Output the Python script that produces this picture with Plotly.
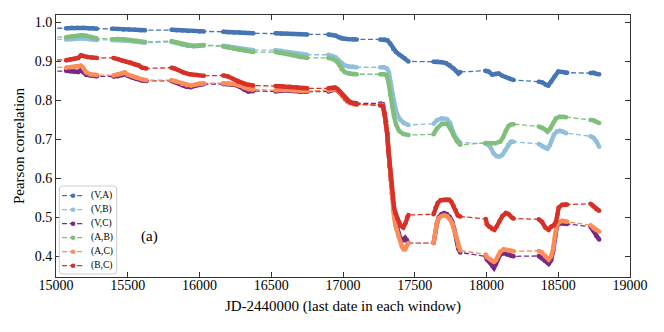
import plotly.graph_objects as go

# ---------------- data (JD-2440000, Pearson r) ----------------
va_jd = [14850,
         15070, 15110, 15150, 15190, 15230, 15260, 15285,
         15390, 15430, 15470, 15510, 15550, 15590, 15620,
         15805, 15840, 15880, 15920, 15960, 16000, 16030,
         16165, 16200, 16240, 16280, 16320, 16375,
         16530, 16570, 16610, 16650, 16700, 16750,
         16898, 16925, 16950, 16970, 16990, 17010, 17040, 17070, 17096,
         17259, 17290, 17310, 17330, 17350, 17370, 17390, 17410, 17430, 17456,
         17631, 17660, 17690, 17720, 17745, 17770, 17790, 17805, 17817,
         17991, 18015, 18040, 18065, 18085, 18110, 18135, 18160, 18189,
         18364, 18390, 18415, 18430, 18450, 18475, 18500, 18525, 18550, 18562,
         18725, 18745, 18765, 18785]
va_r = [0.985,
        0.985, 0.986, 0.986, 0.986, 0.985, 0.985, 0.984,
        0.984, 0.983, 0.982, 0.982, 0.981, 0.980, 0.980,
        0.981, 0.980, 0.979, 0.978, 0.978, 0.977, 0.977,
        0.976, 0.975, 0.974, 0.974, 0.973, 0.972,
        0.972, 0.971, 0.971, 0.970, 0.970, 0.969,
        0.969, 0.968, 0.966, 0.962, 0.959, 0.958, 0.957, 0.957, 0.956,
        0.956, 0.956, 0.954, 0.945, 0.932, 0.924, 0.918, 0.913, 0.908, 0.900,
        0.899, 0.899, 0.898, 0.895, 0.890, 0.882, 0.875, 0.869, 0.873,
        0.876, 0.874, 0.866, 0.868, 0.869, 0.863, 0.860, 0.856, 0.852,
        0.848, 0.846, 0.840, 0.838, 0.848, 0.862, 0.874, 0.873, 0.871, 0.871,
        0.870, 0.871, 0.868, 0.867]

vb_jd = [14850,
         15070, 15110, 15150, 15190, 15230, 15260, 15285,
         15390, 15430, 15470, 15510, 15550, 15590, 15620,
         15805, 15840, 15880, 15920, 15960, 16000, 16030,
         16165, 16200, 16240, 16280, 16320, 16375,
         16530, 16570, 16610, 16650, 16700, 16750,
         16898, 16925, 16950, 16970, 16990, 17010, 17040, 17070, 17096,
         17259, 17285, 17305, 17320, 17335, 17350, 17365, 17380, 17400, 17425, 17456,
         17631, 17655, 17689, 17724, 17747, 17770, 17794, 17817,
         17992, 18010, 18027, 18050, 18070, 18090, 18110, 18130, 18150, 18170, 18189,
         18364, 18390, 18410, 18425, 18440, 18455, 18470, 18490, 18510, 18530, 18555,
         18725, 18745, 18765, 18785]
vb_r = [0.955,
        0.956, 0.957, 0.958, 0.959, 0.957, 0.956, 0.955,
        0.955, 0.955, 0.954, 0.953, 0.951, 0.949, 0.948,
        0.950, 0.947, 0.943, 0.940, 0.940, 0.941, 0.942,
        0.940, 0.938, 0.936, 0.933, 0.931, 0.929,
        0.929, 0.927, 0.924, 0.921, 0.918, 0.917,
        0.917, 0.914, 0.910, 0.903, 0.895, 0.890, 0.887, 0.886, 0.885,
        0.885, 0.885, 0.882, 0.872, 0.840, 0.805, 0.780, 0.762, 0.750, 0.742, 0.737,
        0.740, 0.749, 0.754, 0.752, 0.742, 0.716, 0.700, 0.692,
        0.689, 0.686, 0.680, 0.664, 0.657, 0.656, 0.660, 0.672, 0.686, 0.694, 0.694,
        0.688, 0.682, 0.678, 0.676, 0.684, 0.698, 0.712, 0.720, 0.722, 0.720, 0.716,
        0.708, 0.704, 0.695, 0.681]

vc_jd = [14850,
         15070, 15100, 15130, 15155, 15175, 15190, 15210, 15240, 15285,
         15400, 15430, 15460, 15480, 15500, 15530, 15560, 15600, 15630,
         15805, 15840, 15880, 15910, 15940, 15975, 16000, 16030,
         16165, 16200, 16240, 16280, 16310, 16340, 16375,
         16530, 16570, 16610, 16650, 16700, 16750,
         16898, 16925, 16946, 16965, 16980, 16998, 17015, 17032, 17050, 17075, 17096,
         17259, 17278, 17290, 17300, 17308, 17317, 17325, 17333, 17340, 17348,
         17356, 17365, 17375, 17385, 17398, 17410, 17422, 17433, 17445, 17456,
         17631, 17643, 17655, 17668, 17685, 17705, 17725, 17745, 17760, 17775, 17790, 17803, 17817,
         17995, 18003, 18026, 18040, 18052, 18065, 18080, 18096, 18120, 18143, 18166, 18189,
         18364, 18387, 18410, 18433, 18450, 18465, 18478, 18490, 18503, 18527, 18545, 18562,
         18725, 18745, 18765, 18785]
vc_r = [0.875,
        0.876, 0.875, 0.874, 0.873, 0.878, 0.872, 0.866, 0.864, 0.862,
        0.861, 0.862, 0.865, 0.868, 0.863, 0.859, 0.855, 0.851, 0.850,
        0.850, 0.846, 0.839, 0.835, 0.834, 0.838, 0.841, 0.842,
        0.842, 0.842, 0.840, 0.835, 0.828, 0.823, 0.824,
        0.823, 0.825, 0.826, 0.824, 0.822, 0.822,
        0.823, 0.826, 0.828, 0.824, 0.818, 0.810, 0.803, 0.798, 0.795, 0.793, 0.792,
        0.792, 0.790, 0.765, 0.745, 0.715, 0.670, 0.630, 0.595, 0.562, 0.535,
        0.510, 0.490, 0.474, 0.460, 0.448, 0.444, 0.442, 0.447, 0.442, 0.434,
        0.434, 0.462, 0.485, 0.500, 0.508, 0.511, 0.508, 0.500, 0.490, 0.470, 0.445, 0.420, 0.410,
        0.400, 0.392, 0.383, 0.376, 0.370, 0.380, 0.395, 0.405, 0.408, 0.405, 0.402, 0.400,
        0.401, 0.396, 0.388, 0.381, 0.390, 0.415, 0.450, 0.476, 0.484, 0.485, 0.484, 0.483,
        0.476, 0.466, 0.452, 0.443]

ab_jd = [14850,
         15070, 15110, 15150, 15180, 15210, 15250, 15285,
         15390, 15430, 15470, 15510, 15560, 15620,
         15805, 15840, 15880, 15920, 15960, 16000, 16030,
         16165, 16200, 16240, 16280, 16320, 16375,
         16530, 16570, 16610, 16650, 16700, 16750,
         16898, 16930, 16957, 16975, 16990, 17010, 17040, 17070, 17096,
         17259, 17285, 17305, 17318, 17330, 17342, 17355, 17370, 17390, 17420, 17456,
         17631, 17655, 17689, 17724, 17747, 17770, 17794, 17817,
         17992, 18027, 18060, 18095, 18115, 18135, 18155, 18175, 18189,
         18364, 18390, 18410, 18425, 18445, 18465, 18485, 18510, 18535, 18555,
         18725, 18745, 18765, 18785]
ab_r = [0.959,
        0.962, 0.964, 0.966, 0.967, 0.966, 0.961, 0.959,
        0.957, 0.958, 0.957, 0.955, 0.953, 0.950,
        0.952, 0.949, 0.944, 0.940, 0.939, 0.940, 0.941,
        0.938, 0.936, 0.933, 0.930, 0.927, 0.924,
        0.924, 0.922, 0.919, 0.916, 0.912, 0.909,
        0.909, 0.906, 0.900, 0.890, 0.880, 0.873, 0.869, 0.867, 0.867,
        0.867, 0.867, 0.864, 0.845, 0.815, 0.785, 0.760, 0.738, 0.722, 0.714, 0.711,
        0.713, 0.728, 0.740, 0.740, 0.728, 0.710, 0.695, 0.686,
        0.691, 0.690, 0.690, 0.694, 0.705, 0.722, 0.735, 0.739, 0.739,
        0.733, 0.730, 0.725, 0.720, 0.728, 0.742, 0.754, 0.758, 0.758, 0.757,
        0.750, 0.749, 0.745, 0.742]

ac_jd = list(vc_jd)
ac_r = [0.884,
        0.884, 0.885, 0.886, 0.887, 0.889, 0.883, 0.872, 0.867, 0.865,
        0.864, 0.866, 0.868, 0.872, 0.866, 0.862, 0.858, 0.854, 0.852,
        0.852, 0.848, 0.842, 0.839, 0.838, 0.841, 0.843, 0.844,
        0.844, 0.844, 0.842, 0.838, 0.833, 0.829, 0.828,
        0.826, 0.828, 0.828, 0.826, 0.825, 0.824,
        0.826, 0.828, 0.829, 0.825, 0.819, 0.810, 0.802, 0.796, 0.793, 0.790, 0.789,
        0.789, 0.787, 0.765, 0.745, 0.715, 0.670, 0.630, 0.595, 0.565, 0.530,
        0.500, 0.480, 0.468, 0.452, 0.440, 0.425, 0.418, 0.418, 0.428, 0.434,
        0.434, 0.465, 0.488, 0.498, 0.503, 0.505, 0.503, 0.495, 0.485, 0.468, 0.448, 0.425, 0.415,
        0.405, 0.398, 0.392, 0.388, 0.386, 0.390, 0.400, 0.412, 0.418, 0.416, 0.415, 0.413,
        0.414, 0.410, 0.400, 0.392, 0.400, 0.420, 0.455, 0.480, 0.487, 0.491, 0.490, 0.489,
        0.480, 0.472, 0.468, 0.464]

bc_jd = [14850,
         15070, 15100, 15130, 15155, 15175, 15195, 15220, 15250, 15285,
         15400, 15430, 15460, 15490, 15520, 15550, 15575, 15600, 15630,
         15805, 15830, 15851, 15886, 15933, 15980, 16030,
         16165, 16200, 16235, 16270, 16310, 16340, 16375,
         16530, 16580, 16630, 16680, 16720, 16750,
         16898, 16925, 16946, 16965, 16980, 16998, 17015, 17032, 17050, 17075, 17096,
         17259, 17278, 17290, 17300, 17308, 17317, 17325, 17333, 17340, 17348,
         17356, 17365, 17378, 17390, 17405, 17420, 17435, 17447, 17456,
         17631, 17645, 17660, 17680, 17700, 17720, 17740, 17755, 17770, 17785, 17800, 17817,
         17995, 18003, 18020, 18040, 18055, 18070, 18090, 18110, 18135, 18155, 18175, 18189,
         18364, 18387, 18410, 18433, 18450, 18470, 18485, 18495, 18503, 18527, 18545, 18562,
         18725, 18745, 18765, 18785]
bc_r = [0.901,
        0.903, 0.905, 0.907, 0.909, 0.916, 0.913, 0.911, 0.910, 0.909,
        0.909, 0.906, 0.902, 0.899, 0.897, 0.892, 0.890, 0.884, 0.882,
        0.884, 0.882, 0.878, 0.872, 0.867, 0.865, 0.863,
        0.864, 0.861, 0.855, 0.848, 0.843, 0.840, 0.838,
        0.837, 0.836, 0.835, 0.834, 0.832, 0.831,
        0.831, 0.832, 0.833, 0.828, 0.822, 0.813, 0.805, 0.799, 0.795, 0.792, 0.790,
        0.787, 0.785, 0.765, 0.745, 0.715, 0.670, 0.635, 0.605, 0.580, 0.548,
        0.525, 0.512, 0.498, 0.488, 0.478, 0.474, 0.485, 0.500, 0.506,
        0.508, 0.525, 0.537, 0.544, 0.545, 0.546, 0.545, 0.540, 0.530, 0.518, 0.505, 0.502,
        0.496, 0.482, 0.476, 0.470, 0.468, 0.476, 0.490, 0.503, 0.511, 0.508, 0.500, 0.497,
        0.495, 0.488, 0.474, 0.468, 0.476, 0.480, 0.490, 0.508, 0.525, 0.532, 0.532, 0.533,
        0.535, 0.528, 0.521, 0.517]

series_names = ["(V,A)", "(V,B)", "(V,C)", "(A,B)", "(A,C)", "(B,C)"]
series_x = [va_jd, vb_jd, vc_jd, ab_jd, ac_jd, bc_jd]
series_y = [va_r, vb_r, vc_r, ab_r, ac_r, bc_r]
series_colors = ["#4575b4", "#91bfdb", "#762a83", "#7fbf7b", "#fc8d59", "#d73027"]

x_ticks = [15000, 15500, 16000, 16500, 17000, 17500, 18000, 18500, 19000]
x_ticktext = [str(v) for v in x_ticks]
y_ticks = [0.4, 0.5, 0.6, 0.7, 0.8, 0.9, 1.0]
y_ticktext = ["0.4", "0.5", "0.6", "0.7", "0.8", "0.9", "1.0"]

FONT = "Liberation Serif"
DASH = "5px,2.6px"

# figure geometry (page body adds an 8px offset)
W, H = 656, 324
ML, MR, MT, MB = 48, 34, 7, 55
PW, PH = W - ML - MR, H - MT - MB


def dense_runs(xs, ys, max_gap=80):
    """Break the series where observing windows are far apart."""
    ox, oy = [], []
    for i, (a, b) in enumerate(zip(xs, ys)):
        if i > 0 and a - xs[i - 1] > max_gap:
            ox.append(None)
            oy.append(None)
        ox.append(a)
        oy.append(b)
    return ox, oy


fig = go.Figure()
for name, xs, ys, col in zip(series_names, series_x, series_y, series_colors):
    fig.add_trace(go.Scatter(
        x=xs, y=ys, mode="lines+markers", name=name, showlegend=False,
        line=dict(color=col, width=1.3, dash=DASH),
        marker=dict(color=col, size=4.5, line=dict(width=0)),
    ))
    dx, dy = dense_runs(xs, ys)
    fig.add_trace(go.Scatter(
        x=dx, y=dy, mode="lines", showlegend=False,
        line=dict(color=col, width=4.4), connectgaps=False, hoverinfo="skip",
    ))

# ---- legend drawn in plot-relative pixel units (matplotlib-like compact box) ----
def px_x(p):
    return p / PW


def px_y(p):  # p measured from top of plot area
    return 1 - p / PH


shapes = []
annotations = []
bx0, bx1, by0, by1, rr = 3.3, 60.7, 171.0, 259.0, 3.0
X0, X1, Y0, Y1 = px_x(bx0), px_x(bx1), px_y(by0), px_y(by1)
rx, ry = rr / PW, rr / PH
path = (f"M {X0+rx},{Y0} L {X1-rx},{Y0} Q {X1},{Y0} {X1},{Y0-ry} "
        f"L {X1},{Y1+ry} Q {X1},{Y1} {X1-rx},{Y1} L {X0+rx},{Y1} "
        f"Q {X0},{Y1} {X0},{Y1+ry} L {X0},{Y0-ry} Q {X0},{Y0} {X0+rx},{Y0} Z")
shapes.append(dict(type="path", xref="paper", yref="paper", path=path,
                   line=dict(color="#cccccc", width=1), fillcolor="rgba(255,255,255,0.85)",
                   layer="above"))
for k, (name, col) in enumerate(zip(series_names, series_colors)):
    yc = px_y(180.7 + 14.0 * k)
    shapes.append(dict(type="line", xref="paper", yref="paper",
                       x0=px_x(6), x1=px_x(28), y0=yc, y1=yc,
                       line=dict(color=col, width=1.3, dash=DASH), layer="above"))
    shapes.append(dict(type="circle", xref="paper", yref="paper",
                       xsizemode="pixel", ysizemode="pixel",
                       xanchor=px_x(17), yanchor=yc, x0=-2.3, x1=2.3, y0=-2.3, y1=2.3,
                       fillcolor=col, line=dict(width=0), layer="above"))
    annotations.append(dict(x=px_x(33), y=yc, xref="paper", yref="paper", text=name,
                            xanchor="left", yanchor="middle", showarrow=False,
                            font=dict(family=FONT, size=9.5, color="black")))

annotations.append(dict(x=15655, y=0.452, xref="x", yref="y", text="(a)",
                        showarrow=False, font=dict(family=FONT, size=15, color="black")))

axis_common = dict(
    showgrid=False, zeroline=False, showline=True, linecolor="#333333", linewidth=1,
    ticks="inside", ticklen=5, tickwidth=1, tickcolor="#333333", mirror="ticks",
    tickfont=dict(family=FONT, size=14, color="black"),
)

fig.update_layout(
    width=W, height=H,
    margin=dict(l=ML, r=MR, t=MT, b=MB),
    paper_bgcolor="white", plot_bgcolor="white",
    font=dict(family=FONT, size=14, color="black"),
    showlegend=False,
    xaxis=dict(range=[15000, 19000], tickvals=x_ticks, ticktext=x_ticktext,
               ticklabelstandoff=-5,
               title=dict(text="JD-2440000 (last date in each window)",
                          font=dict(family=FONT, size=15), standoff=8),
               **axis_common),
    yaxis=dict(range=[0.347, 1.019], tickvals=y_ticks, ticktext=y_ticktext,
               title=dict(text="Pearson correlation",
                          font=dict(family=FONT, size=15), standoff=6),
               **axis_common),
    shapes=shapes,
    annotations=annotations,
)

fig.write_html("out.html")
